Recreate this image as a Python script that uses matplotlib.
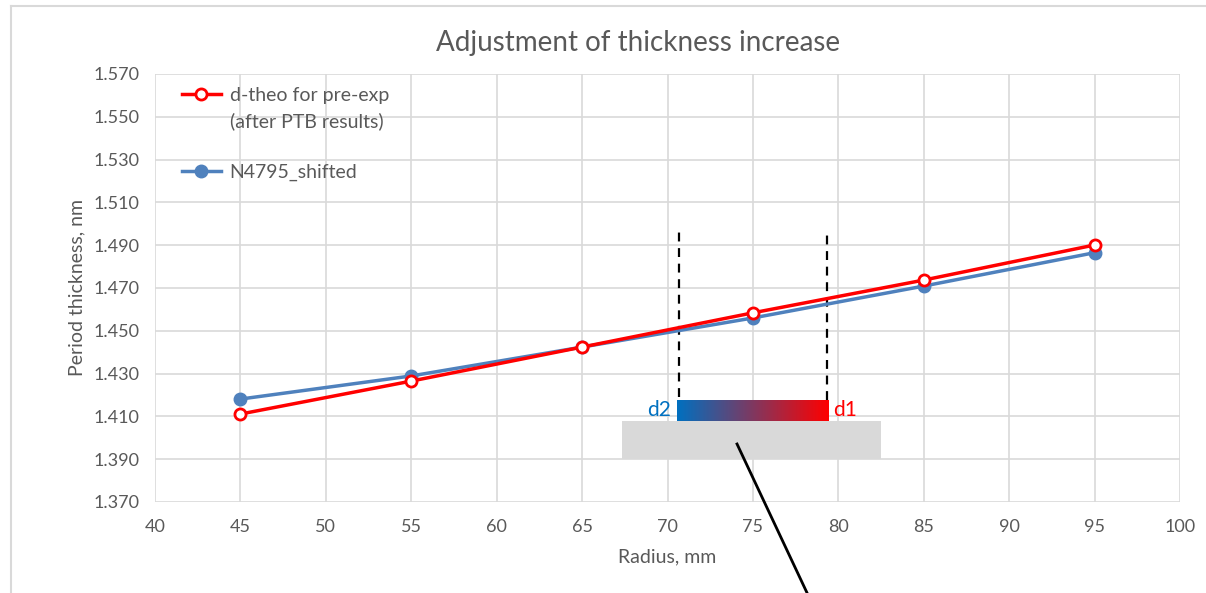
import matplotlib
matplotlib.use("Agg")
import matplotlib.pyplot as plt
import numpy as np
from matplotlib.colors import LinearSegmentedColormap
from matplotlib.lines import Line2D
from matplotlib.patches import Rectangle

plt.rcParams['font.family'] = ['Lato', 'DejaVu Sans']

# data
radius = [45, 55, 65, 75, 85, 95]
d_theo = [1.4111, 1.4265, 1.4424, 1.4584, 1.4737, 1.4901]
n4795_shifted = [1.4181, 1.4289, 1.4424, 1.4560, 1.4709, 1.4865]

x_ticks = list(range(40, 101, 5))
y_ticks = [1.370, 1.390, 1.410, 1.430, 1.450, 1.470, 1.490, 1.510, 1.530, 1.550, 1.570]

# annotation positions (data units)
dash_x = [70.67, 79.34]
dash_y = [(1.4190, 1.4980), (1.4175, 1.4965)]
bar_x = (70.56, 79.45)
bar_y = (1.4080, 1.4177)
base_x = (67.34, 82.47)
base_y = (1.3900, 1.4080)
pointer_x = [74.07, 78.17]
pointer_y = [1.3971, 1.3275]

TEXT = "#595959"
GRID = "#D9D9D9"
RED = "#FF0000"
BLUE = "#4F81BD"

fig = plt.figure(figsize=(12.06, 5.93), dpi=100)
ax = fig.add_axes([155 / 1206, 1 - 502 / 593, 1025 / 1206, 428 / 593])

# chart outer border (Excel chart area)
fig.add_artist(Line2D([11 / 1206, 11 / 1206], [0, 1 - 6 / 593], transform=fig.transFigure, color=GRID, lw=1.5))
fig.add_artist(Line2D([11 / 1206, 1], [1 - 6 / 593, 1 - 6 / 593], transform=fig.transFigure, color=GRID, lw=1.5))

ax.set_xticks(x_ticks)
ax.set_yticks(y_ticks)
ax.set_yticklabels([f"{v:.3f}" for v in y_ticks])
ax.grid(True, color=GRID, lw=1.2)
ax.set_axisbelow(True)
for s in ax.spines.values():
    s.set_visible(False)
ax.tick_params(length=0, colors=TEXT, labelsize=13)
ax.tick_params(axis='y', pad=11)
ax.tick_params(axis='x', pad=12)

red_line, = ax.plot(radius, d_theo, color=RED, lw=2.5, marker='o', ms=8, mfc='white', mec=RED, mew=2,
                    zorder=5)
blue_line, = ax.plot(radius, n4795_shifted, color=BLUE, lw=2.5, marker='o', ms=9, mfc=BLUE, mec=BLUE,
                     zorder=4)

# gray base block and gradient bar
ax.add_patch(Rectangle((base_x[0], base_y[0]), base_x[1] - base_x[0], base_y[1] - base_y[0],
                       facecolor="#D9D9D9", edgecolor='none', zorder=2))
cmap = LinearSegmentedColormap.from_list("d2d1", ["#0070C0", "#FF0000"])
ax.imshow(np.linspace(0, 1, 256).reshape(1, -1), cmap=cmap, aspect='auto',
          extent=[bar_x[0], bar_x[1], bar_y[0], bar_y[1]], zorder=3)
ax.set_xlim(40, 100)
ax.set_ylim(1.370, 1.570)

for x, (y0, y1) in zip(dash_x, dash_y):
    ax.plot([x, x], [y0, y1], color='black', lw=1.6, ls=(0, (4, 3)), zorder=3)

ax.text(bar_x[0] - 0.35, sum(bar_y) / 2, "d2", color="#0070C0", fontsize=15, ha='right', va='center')
ax.text(bar_x[1] + 0.25, sum(bar_y) / 2, "d1", color=RED, fontsize=15, ha='left', va='center')

ax.plot(pointer_x, pointer_y, color='black', lw=2, clip_on=False, zorder=6)

fig.text(638 / 1206, 1 - 43 / 593, "Adjustment of thickness increase", color=TEXT, fontsize=20,
         ha='center', va='center')
ax.set_xlabel("Radius, mm", color=TEXT, fontsize=14, labelpad=10)
ax.set_ylabel("Period thickness, nm", color=TEXT, fontsize=14, labelpad=6)

blank = Line2D([], [], color='none')
leg = ax.legend([red_line, blank, blank, blue_line],
                ["d-theo for pre-exp", "(after PTB results)", "", "N4795_shifted"],
                loc='upper left', bbox_to_anchor=(27 / 1025, 1 - 13 / 428), bbox_transform=ax.transAxes,
                frameon=False, fontsize=14, handlelength=2.0, labelspacing=0.42, handletextpad=0.45,
                borderaxespad=0.0, borderpad=0.0)
for t in leg.get_texts():
    t.set_color(TEXT)

fig.savefig("out.png", dpi=100)
